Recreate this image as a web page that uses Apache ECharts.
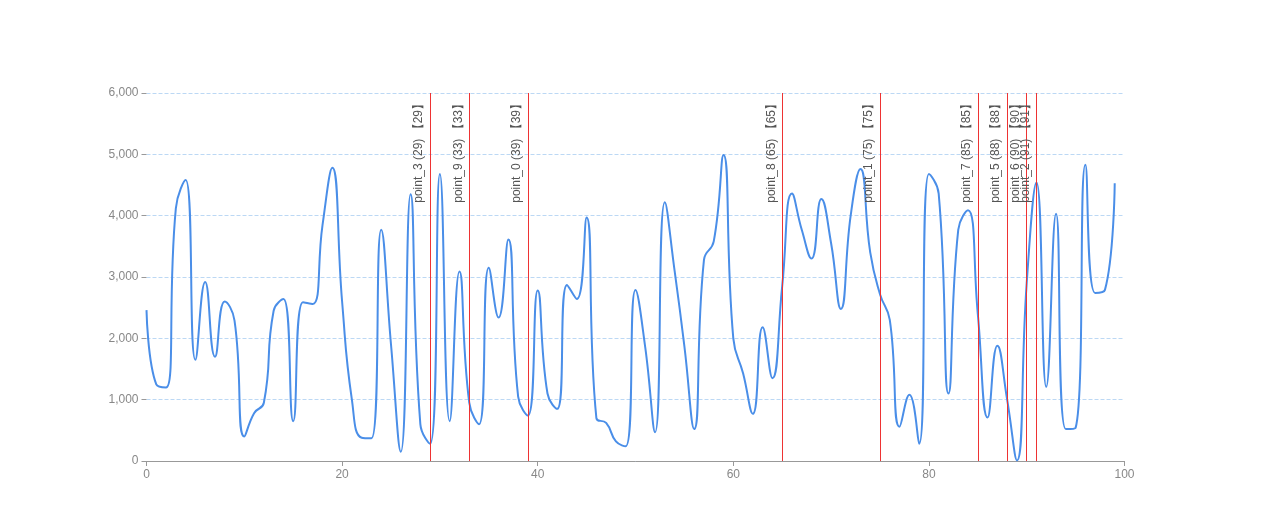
<!DOCTYPE html>
<html><head><meta charset="utf-8">
<script src="https://cdn.jsdelivr.net/npm/echarts@6/dist/echarts.min.js"></script>
<style>html,body{margin:0;padding:0;background:#fff}#c{width:1280px;height:531px}</style>
</head><body><div id="c"></div>
<script>
const xValues = [];
for (let i = 0; i < 100; i++) xValues.push(i);
const yValues = [2460,1250,1200,4120,4580,1650,2920,1700,2600,2290,
 400,780,950,2450,2640,650,2590,2560,3850,4780,
 2600,1000,380,370,3770,1900,150,4350,600,280,
 4680,650,3090,950,600,3150,2340,3610,1050,740,
 2780,1100,850,2870,2640,3970,700,620,320,240,
 2790,1850,470,4220,3100,1870,520,3280,3580,4990,
 2000,1430,770,2180,1350,2850,4360,3770,3300,4270,
 3550,2480,4000,4760,3400,2720,2300,560,1080,280,
 4680,4360,1100,3770,4090,2400,710,1880,1000,10,
 2900,4540,1210,4030,520,540,4830,2740,2790,4530];
const markNames = ['point_0','point_1','point_2','point_3','point_5','point_6','point_7','point_8','point_9'];
const markX = [39,75,91,29,88,90,85,65,33];

const chart = echarts.init(document.getElementById('c'));
chart.setOption({
  animation:false,
  grid:{left:146.5,right:155.5,top:93,bottom:70},
  xAxis:{type:'value',min:0,max:100,interval:20,
    axisLine:{lineStyle:{color:'#999'}},axisTick:{lineStyle:{color:'#999'}},
    axisLabel:{color:'#888',fontSize:12},splitLine:{show:false}},
  yAxis:{type:'value',min:0,max:6000,interval:1000,
    axisLine:{show:false},axisTick:{show:true,lineStyle:{color:'#999'}},
    axisLabel:{color:'#888',fontSize:12},
    splitLine:{lineStyle:{type:'dashed',color:'#bcd8f4'}}},
  series:[{type:'line',smooth:true,showSymbol:false,
    data:xValues.map((x,i)=>[x,yValues[i]]),
    lineStyle:{color:'#4a8ee8',width:2},itemStyle:{color:'#4a8ee8'},
    markLine:{symbol:'none',silent:true,
      lineStyle:{color:'#ee3333',width:1,type:'solid'},
      label:{position:'insideEndTop',color:'#555',fontSize:12,
        formatter:p=>p.name+' ('+p.value+') 【'+p.value+'】'},
      data:markNames.map((n,i)=>({name:n,xAxis:markX[i]}))}
  }]
});
</script></body></html>
